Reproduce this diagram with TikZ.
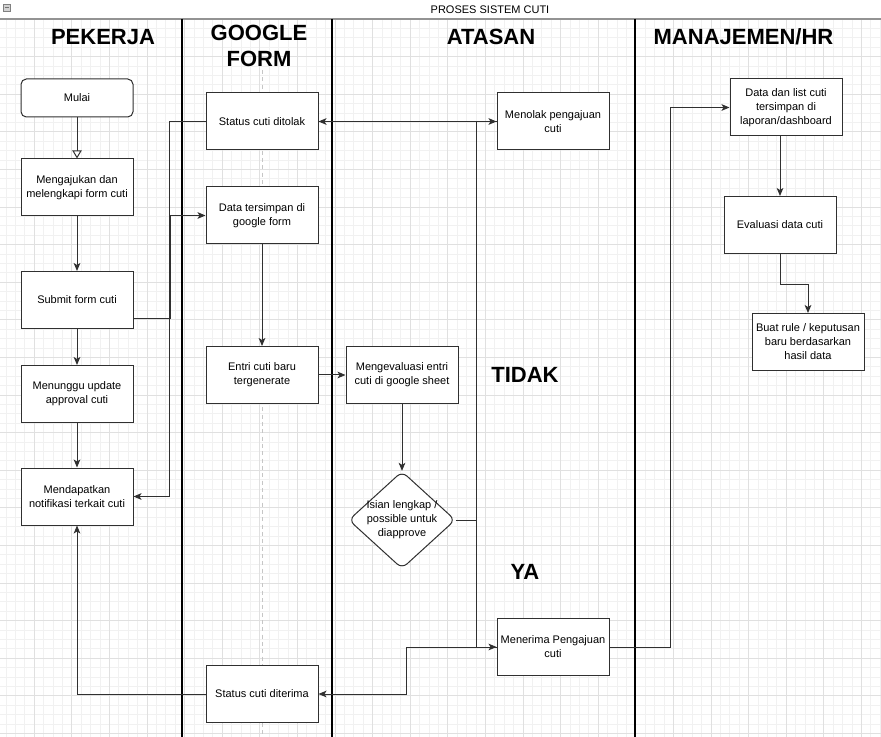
\documentclass[tikz,border=0pt]{standalone}
\usepackage{fontspec}
\setmainfont{Liberation Sans}
\usetikzlibrary{arrows.meta, shapes.geometric, positioning, calc}

\definecolor{gridminor}{HTML}{F1F1F1}
\definecolor{gridmajor}{HTML}{E0E0E0}
\definecolor{edgegray}{HTML}{303030}

\begin{document}
\begin{tikzpicture}[x=0.75pt, y=-0.75pt,
    box/.style={draw=edgegray, fill=white, line width=0.75pt, minimum width=84pt, minimum height=42.75pt,
      inner sep=1pt, align=center, font=\fontsize{8.25}{10.5}\selectfont},
    start/.style={box, rounded corners=4pt, minimum height=28.5pt},
    decision/.style={diamond, draw=edgegray, fill=white, line width=0.75pt, rounded corners=5pt, aspect=1.1,
      minimum width=80pt, minimum height=73pt, inner sep=-3pt, align=center,
      font=\fontsize{8.25}{10.5}\selectfont},
    lanehead/.style={font=\fontsize{16.5}{20}\selectfont\bfseries, align=center},
    lane/.style={line width=1.5pt, black},
    edge/.style={draw=edgegray, line width=0.75pt},
    >={Stealth[length=6pt, width=5pt, inset=1.5pt]}]

    \useasboundingbox (0,0) rectangle (881,737);
    \fill[white] (0,0) rectangle (881,737);

    % grid
    \foreach \i in {0,...,94} \draw[gridminor, line width=0.5pt] ({\i*9.4-3.4},19) -- ({\i*9.4-3.4},737);
    \foreach \j in {0,...,76} \draw[gridminor, line width=0.5pt] (0,{19+\j*9.4}) -- (881,{19+\j*9.4});
    \foreach \i in {0,...,24} \draw[gridmajor, line width=0.5pt] ({\i*37.6-3.4},19) -- ({\i*37.6-3.4},737);
    \foreach \j in {0,...,19} \draw[gridmajor, line width=0.5pt] (0,{19+\j*37.6}) -- (881,{19+\j*37.6});

    % title bar
    \fill[white] (0,0) rectangle (881,19);
    \draw[gray!85, line width=1.5pt] (0,19) -- (881,19);
    \draw[gray, fill=gray!35, line width=0.5pt] (3,4) rectangle (10,11);
    \draw[gray!90!black, line width=0.75pt] (4.5,7.5) -- (8.5,7.5);
    \node[font=\fontsize{8.25}{10}\selectfont] (judul) at (490,9.5) {PROSES SISTEM CUTI};

    % lanes
    \draw[lane] (182,19) -- (182,737);
    \draw[lane] (332,19) -- (332,737);
    \draw[lane, line width=1.2pt] (635,19) -- (635,737);
    \draw[gray!45, line width=0.6pt, dash pattern=on 3pt off 2.5pt] (262,70) -- (262,737);

    \node[lanehead] (hpekerja) at (103,37) {PEKERJA};
    \node[lanehead] (hform) at (259,46) {GOOGLE\\FORM};
    \node[lanehead] (hatasan) at (491,37) {ATASAN};
    \node[lanehead] (hhr) at (743.5,37) {MANAJEMEN/HR};

    % pekerja
    \node[start] (mulai) at (77,98) {Mulai};
    \node[box] (ajukan) at (77,187.5) {Mengajukan dan\\melengkapi form cuti};
    \node[box] (submit) at (77,300) {Submit form cuti};
    \node[box] (tunggu) at (77,394) {Menunggu update\\approval cuti};
    \node[box] (notif) at (77,496.5) {Mendapatkan\\notifikasi terkait cuti};

    % google form
    \node[box] (ditolak) at (262,121.5) {Status cuti ditolak};
    \node[box] (simpan) at (262,215.5) {Data tersimpan di\\google form};
    \node[box] (entri) at (262,375) {Entri cuti baru\\tergenerate};
    \node[box] (diterima) at (262,694) {Status cuti diterima};

    % atasan
    \node[box] (evaluasi) at (402,375) {Mengevaluasi entri\\cuti di google sheet};
    \node[decision] (cek) at (402,520) {Isian lengkap /\\possible untuk\\diapprove};
    \node[box] (menolak) at (553,121.5) {Menolak pengajuan\\cuti};
    \node[box] (terima) at (553,647) {Menerima Pengajuan\\cuti};
    \node[lanehead] (tidak) at (525,375) {TIDAK};
    \node[lanehead] (ya) at (525,572) {YA};

    % manajemen / hr
    \node[box] (datalist) at (786,107.5) {Data dan list cuti\\tersimpan di\\laporan/dashboard};
    \node[box] (hrevaluasi) at (780,225) {Evaluasi data cuti};
    \node[box] (aturan) at (808,342) {Buat rule / keputusan\\baru berdasarkan\\hasil data};

    % connectors
    \draw[edge, -{Triangle[open, length=6pt, width=7pt]}] (mulai) -- (ajukan);
    \draw[edge, ->] (ajukan) -- (submit);
    \draw[edge, ->] (submit) -- (tunggu);
    \draw[edge, ->] (tunggu) -- (notif);
    \draw[edge, ->] ([yshift=-14.25pt]submit.east) -- ++(37,0) |- (simpan.west);
    \draw[edge, ->] (ditolak.west) -- ++(-36,0) |- (notif.east);
    \draw[edge, ->] (simpan) -- (entri);
    \draw[edge, ->] (entri) -- (evaluasi);
    \draw[edge, ->] (evaluasi) -- (cek);
    \draw[edge, ->] (cek.east) -- ++(21,0) |- (menolak.west);
    \draw[edge, ->] (cek.east) -- ++(21,0) |- (terima.west);
    \draw[edge, ->] (menolak.west) -- (ditolak.east);
    \draw[edge, ->] (terima.west) -- ++(-90,0) |- (diterima.east);
    \draw[edge, ->] (diterima.west) -| (notif.south);
    \draw[edge, ->] (terima.east) -- ++(61,0) |- (datalist.west);
    \draw[edge, ->] (datalist.south -| hrevaluasi.north) -- (hrevaluasi.north);
    \draw[edge, ->] (hrevaluasi.south) -- ++(0,31) -| (aturan.north);
\end{tikzpicture}
\end{document}
